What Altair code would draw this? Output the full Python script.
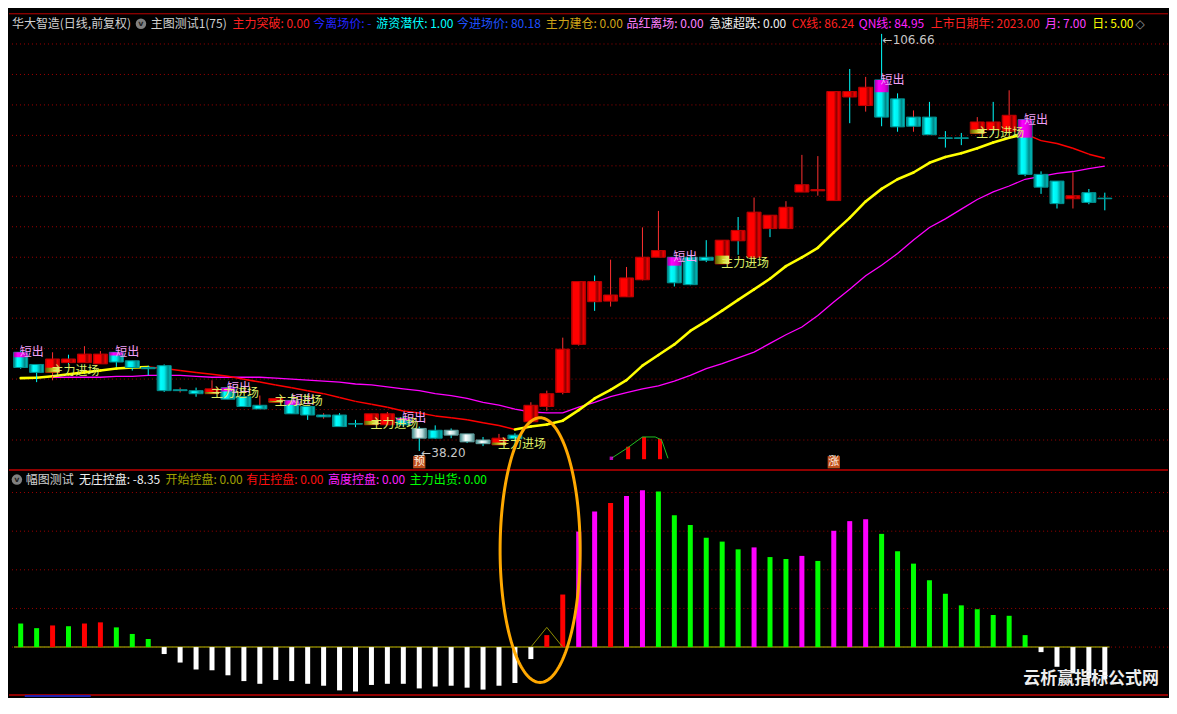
import altair as alt
import numpy as np
import pandas as pd

FONT = "Noto Sans CJK SC"
W, H_TOP, H_BOT = 1160, 463, 227
SX = W / 1177.0
SY = (H_TOP + H_BOT) / 714.0

# ------------------------------------------------------------------ data
opens = [54.4, 52.4, 51.1, 53.3, 52.7, 52.5, 54.4, 53.0, 51.9, 52.2,
         48.1, 48.1, 47.6, 48.6, 47.1, 45.1, 46.2, 46.5, 45.5, 43.8,
         44.1, 42.7, 42.5, 42.5, 43.6, 41.9, 41.6, 41.6, 41.0, 40.0,
         39.2, 40.8, 43.0, 45.5, 47.8, 55.7, 66.0, 62.8, 63.5, 66.3,
         70.0, 70.0, 70.0, 70.0, 68.9, 74.4, 70.0, 76.9, 74.7, 80.7,
         80.9, 79.3, 97.2, 94.9, 99.1, 96.0, 91.5, 93.0, 89.6, 89.6,
         90.3, 92.2, 90.7, 92.6, 83.6, 82.5, 79.6, 80.6, 79.7]
highs = [54.6, 52.4, 54.4, 54.0, 55.4, 54.6, 54.4, 53.0, 52.2, 52.4,
         48.6, 48.6, 49.8, 48.6, 47.1, 47.3, 47.0, 46.5, 45.5, 44.4,
         44.4, 43.3, 44.3, 44.6, 43.8, 42.2, 42.4, 41.9, 41.0, 40.5,
         41.0, 41.1, 46.2, 48.1, 56.8, 66.0, 67.0, 69.6, 68.4, 74.9,
         77.6, 70.0, 70.4, 72.8, 72.8, 76.6, 79.8, 76.9, 79.2, 86.8,
         86.6, 97.2, 100.9, 99.6, 106.66, 96.9, 94.1, 95.5, 90.7, 90.4,
         93.0, 95.5, 97.4, 92.6, 84.1, 82.5, 83.9, 81.2, 80.6]
lows = [51.7, 49.5, 49.8, 52.4, 52.7, 52.5, 52.0, 51.4, 50.6, 47.9,
        47.8, 47.1, 47.6, 46.7, 45.4, 45.1, 46.2, 44.3, 43.3, 43.5,
        42.2, 42.1, 42.5, 42.5, 42.2, 38.2, 40.2, 40.3, 39.5, 39.0,
        39.2, 39.8, 42.7, 44.8, 47.5, 55.5, 61.2, 61.9, 63.5, 66.2,
        70.0, 65.2, 65.4, 69.2, 68.9, 70.4, 70.0, 73.3, 74.7, 80.7,
        80.1, 79.3, 92.0, 93.9, 91.5, 90.6, 90.6, 90.1, 88.0, 88.4,
        90.3, 90.3, 90.7, 83.3, 80.4, 78.0, 78.0, 78.7, 77.7]
closes = [51.9, 51.1, 53.3, 52.7, 54.1, 54.1, 52.8, 51.9, 51.7, 48.1,
          48.25, 47.6, 48.4, 46.7, 45.5, 45.7, 46.8, 44.3, 44.1, 44.1,
          42.2, 42.6, 44.3, 44.3, 42.5, 40.3, 40.3, 40.8, 39.7, 39.4,
          40.3, 40.2, 45.7, 47.6, 54.9, 66.0, 62.7, 63.8, 66.6, 70.0,
          71.1, 65.8, 65.5, 69.5, 72.8, 72.7, 77.4, 74.7, 78.2, 81.9,
          81.1, 97.2, 96.3, 97.9, 93.0, 91.4, 93.0, 90.1, 89.5, 89.5,
          92.2, 90.9, 93.3, 83.6, 81.5, 78.8, 80.1, 79.0, 79.6]
body_codes = ("ccrrrrcccc" "ccrcccrccc" "ccrrcwcwww" "rcrrrrrrrr"
              "rcccrrrrrr" "rrrrcccccc" "rrrcccrcc")

cx_line = [50.15, 50.23, 50.46, 50.78, 51.10, 51.41, 51.73, 51.89, 51.97, 51.73,
           51.41, 51.10, 50.78, 50.46, 49.99, 49.51, 49.04, 48.56, 48.09, 47.61,
           46.98, 46.34, 45.87, 45.39, 44.76, 44.44, 43.96, 43.65, 43.33, 42.85,
           42.38, 41.74, 42.22, 42.54, 43.17, 44.91, 46.82, 48.24, 49.83, 52.21,
           53.95, 55.69, 57.91, 59.50, 61.24, 62.99, 64.73, 66.47, 68.54, 69.96,
           71.55, 74.08, 76.46, 79.16, 81.22, 82.80, 83.91, 85.50, 86.45, 87.08,
           87.88, 88.83, 89.62, 90.25, 89.14, 88.67, 87.88, 86.92, 86.24]
qn_line = [None, None, 50.30, 50.30, 50.30, 50.30, 50.46, 50.46, 50.62, 50.62,
           50.62, 50.46, 50.30, 50.30, 50.30, 50.30, 50.15, 49.99, 49.83, 49.67,
           49.51, 49.19, 49.04, 48.72, 48.40, 48.09, 47.61, 47.29, 46.82, 46.18,
           45.71, 45.07, 44.60, 44.44, 44.44, 45.39, 46.18, 47.13, 47.77, 48.40,
           48.88, 49.67, 50.62, 51.73, 52.52, 53.47, 54.43, 55.85, 57.28, 58.55,
           60.45, 62.67, 64.73, 66.95, 68.69, 70.60, 72.82, 74.88, 76.30, 77.89,
           79.47, 80.74, 81.69, 82.80, 83.28, 83.75, 84.07, 84.55, 84.95]

short_out_days = [0, 6, 13, 17, 24, 41, 54, 63]
entry_days = [2, 12, 16, 22, 30, 44, 60]
grid_prices = list(range(40, 110, 5))

mini_bar_x = [38.1, 39.1, 40.1]
mini_bar_top = [38.9, 40.5, 40.2]
mini_base = 36.85
mini_line_x = [37.05, 38.0, 39.0, 39.8, 40.2, 40.6]
mini_line_y = [37.0, 38.6, 40.5, 40.5, 40.0, 37.0]

sub_vals = [6.1, 4.9, 5.6, 5.4, 6.1, 6.4, 5.1, 3.4, 2.1,
            -1.8, -4.0, -5.8, -6.0, -7.3, -8.8, -9.5, -8.5, -8.8, -9.5, -10.0, -11.2,
            -11.5, -9.8, -9.5, -9.5, -10.7, -10.2, -10.0, -10.5, -11.0, -10.0, -9.3, -3.1,
            3.1, 13.6, 29.9, 35.1, 37.3, 39.1, 40.6, 40.3, 34.1, 31.6, 28.3, 27.3, 25.3,
            25.8, 23.3, 22.8, 23.6, 22.3, 30.1, 32.6, 33.1, 29.3, 24.8, 21.6, 17.3, 13.8,
            10.8, 9.8, 8.3, 8.1, 3.1,
            -1.3, -5.1, -6.8, -8.0, -8.35]
sub_codes = ("ggrgrrggg" + "w" * 24 + "rrmmrmm" + "gggggg" + "m" + "gg" + "m" + "g"
             + "mmm" + "g" * 10 + "w" * 5)
sub_grid = [0, 10, 20, 30, 40]
tri_x = [32, 33, 34]
tri_v = [0, 5.1, 0]

top_names = ["主力突破", "今离场价", "游资潜伏", "今进场价", "主力建仓", "品红离场",
             "急速超跌", "CX线", "QN线", "上市日期年", "月", "日"]
top_values = ["0.00", "-", "1.00", "80.18", "0.00", "0.00", "0.00", "86.24",
              "84.95", "2023.00", "7.00", "5.00"]
sub_names = ["无庄控盘", "开始控盘", "有庄控盘", "高度控盘", "主力出货"]
sub_texts = ["-8.35", "0.00", "0.00", "0.00", "0.00"]

# ------------------------------------------------------------------ styles / layout
top_colors = ["#FF2020", "#2424FF", "#00FFFF", "#1E50FF", "#D0A418", "#FF80FF",
              "#F0F0F0", "#FF2020", "#FF20FF", "#FF2020", "#FF40FF", "#FFFF00"]
top_xref = [227, 309, 373, 455, 545, 627, 711, 795, 863, 936, 1052, 1100]
sub_colors = ["#F0F0F0", "#A0A000", "#FF1010", "#FF20FF", "#00FF00"]
sub_xref = [71, 159, 241, 324, 407]
sub_palette = {"g": "#00FF00", "r": "#FF0000", "m": "#FF00FF", "w": "#FFFFFF"}

XS = alt.Scale(domain=[-0.42, 71.65], nice=False, zero=False)
YT = alt.Scale(domain=[34.93, 110.86], nice=False, zero=False)
YB = alt.Scale(domain=[-13.1, 45.6], nice=False, zero=False)


def xq(field="i"):
    return alt.X(f"{field}:Q", scale=XS, axis=None)


def yt(field):
    return alt.Y(f"{field}:Q", scale=YT, axis=None)


def yb(field):
    return alt.Y(f"{field}:Q", scale=YB, axis=None)


def grad(stops):
    return alt.LinearGradient(
        gradient="linear",
        stops=[alt.GradientStop(color=c, offset=o) for o, c in stops],
        x1=0, x2=1, y1=0, y2=0)


def text_item(txt, xpx, ypx, col, size=12, font=FONT, weight="normal"):
    return alt.Chart(pd.DataFrame({"t": [txt]})).mark_text(
        align="left", baseline="middle", font=font, fontSize=size, color=col,
        fontWeight=weight).encode(x=alt.value(xpx), y=alt.value(ypx), text="t:N")


# ------------------------------------------------------------------ frames
n = len(opens)
df = pd.DataFrame({"i": list(range(n)), "o": opens, "h": highs, "l": lows,
                   "c": closes, "body": list(body_codes)})
df["wcol"] = np.where(df["c"] >= df["o"], "#FF3030", "#00FFFF")
df["top"] = df[["o", "c"]].max(axis=1)
df["bot"] = df[["o", "c"]].min(axis=1)

short_df = df.loc[short_out_days].copy()
short_df["ov_top"] = short_df["top"]
short_df["ov_bot"] = short_df["top"] - 0.33 * (short_df["top"] - short_df["bot"])
entry_df = df.loc[entry_days].copy()
entry_df["ov_bot"] = entry_df["bot"]
entry_df["ov_top"] = entry_df["bot"] + 0.35 * (entry_df["top"] - entry_df["bot"])

seg_rows = []
for k in range(len(cx_line) - 1):
    d = "up" if cx_line[k + 1] >= cx_line[k] else "down"
    seg_rows.append({"seg": k, "i": k, "v": cx_line[k], "dir": d, "ord": 0})
    seg_rows.append({"seg": k, "i": k + 1, "v": cx_line[k + 1], "dir": d, "ord": 1})
seg = pd.DataFrame(seg_rows)

qn = pd.DataFrame({"i": list(range(n)), "v": qn_line}).dropna()

# ------------------------------------------------------------------ top panel
layers = []
layers.append(alt.Chart(pd.DataFrame({"p": grid_prices})).mark_rule(
    color="#A00000", strokeDash=[1, 3], strokeWidth=1).encode(y=yt("p")))
layers.append(alt.Chart(qn).mark_line(color="#FF00FF", strokeWidth=1.3).encode(
    x=xq(), y=yt("v")))
layers.append(alt.Chart(seg).transform_filter(alt.datum.dir == "down").mark_line(
    color="#FF0000", strokeWidth=1.5).encode(x=xq(), y=yt("v"), detail="seg:N", order="ord:Q"))
layers.append(alt.Chart(seg).transform_filter(alt.datum.dir == "up").mark_line(
    color="#FFFF00", strokeWidth=2.6, strokeCap="round").encode(
    x=xq(), y=yt("v"), detail="seg:N", order="ord:Q"))

# wicks
layers.append(alt.Chart(df).mark_rule(strokeWidth=1).encode(
    x=xq(), y=yt("l"), y2="h:Q", color=alt.Color("wcol:N", scale=None, legend=None)))

body_fill = {
    "r": grad([(0, "#B00000"), (0.12, "#FF0000"), (0.5, "#FF0000"), (0.68, "#8A0000"),
               (0.85, "#F00000"), (1, "#B00000")]),
    "c": grad([(0, "#007070"), (0.25, "#00FFFF"), (0.5, "#00F0F0"), (0.78, "#008888"),
               (1, "#00C8C8")]),
    "w": grad([(0, "#409090"), (0.4, "#FFFFFF"), (0.7, "#C0E0E0"), (1, "#408080")]),
}
body_edge = {"r": "#C00000", "c": "#009090", "w": "#60A0A0"}
for code in ["r", "c", "w"]:
    layers.append(alt.Chart(df).transform_filter(alt.datum.body == code).mark_bar(
        size=14, fill=body_fill[code], stroke=body_edge[code], strokeWidth=1).encode(
        x=xq(), y=yt("o"), y2="c:Q"))

layers.append(alt.Chart(short_df).mark_bar(
    size=14, fill=grad([(0, "#A000A0"), (0.3, "#FF00FF"), (0.7, "#E000E0"), (1, "#A000A0")])).encode(
    x=xq(), y=yt("ov_top"), y2="ov_bot:Q"))
layers.append(alt.Chart(entry_df).mark_bar(
    size=14, fill=grad([(0, "#606000"), (0.5, "#C8C820"), (1, "#F4F470")])).encode(
    x=xq(), y=yt("ov_bot"), y2="ov_top:Q"))

# mini icon
mini_bars = pd.DataFrame({"i": mini_bar_x, "t": mini_bar_top, "b": [mini_base] * 3})
layers.append(alt.Chart(mini_bars).mark_bar(size=4, color="#FF0000").encode(
    x=xq(), y=yt("t"), y2="b:Q"))
mini_line = pd.DataFrame({"i": mini_line_x, "v": mini_line_y, "k": list(range(len(mini_line_x)))})
layers.append(alt.Chart(mini_line).mark_line(color="#20C020", strokeWidth=1).encode(
    x=xq(), y=yt("v"), order="k:Q"))
layers.append(alt.Chart(mini_line.head(1)).mark_point(
    shape="square", filled=True, color="#FF00FF", size=12).encode(x=xq(), y=yt("v")))

# boxes 预 / 涨
boxes = pd.DataFrame({"i": [25, 51], "p": [36.35, 36.35], "t": ["预", "涨"]})
layers.append(alt.Chart(boxes).mark_square(size=150, color="#C0501C", opacity=1).encode(
    x=xq(), y=yt("p")))
layers.append(alt.Chart(boxes).mark_text(font=FONT, fontSize=11, color="#FFF0E0").encode(
    x=xq(), y=yt("p"), text="t:N"))

# labels
layers.append(alt.Chart(short_df).mark_text(
    align="left", baseline="middle", font=FONT, fontSize=12, color="#F0A0F8", dx=-1).encode(
    x=xq(), y=yt("top"), text=alt.value("短出")))
layers.append(alt.Chart(entry_df).mark_text(
    align="left", baseline="middle", font=FONT, fontSize=12, color="#DDEE66", dx=-1, dy=-1).encode(
    x=xq(), y=yt("bot"), text=alt.value("主力进场")))

extremes = pd.DataFrame({"i": [25, 54], "p": [38.20, 106.66], "t": ["←38.20", "←106.66"]})
layers.append(alt.Chart(extremes.head(1)).mark_text(
    align="left", baseline="middle", font="DejaVu Sans", fontSize=12, color="#C8C8C8", dx=2, dy=2).encode(
    x=xq(), y=yt("p"), text="t:N"))
layers.append(alt.Chart(extremes.tail(1)).mark_text(
    align="left", baseline="middle", font="DejaVu Sans", fontSize=12, color="#C8C8C8", dx=1, dy=6).encode(
    x=xq(), y=yt("p"), text="t:N"))

# borders
one = pd.DataFrame({"a": [0]})
layers.append(alt.Chart(one).mark_rule(color="#C00000", strokeWidth=1).encode(
    x=alt.value(0), x2=alt.value(W), y=alt.value(5.5)))
layers.append(alt.Chart(one).mark_rule(color="#C00000", strokeWidth=1.5).encode(
    x=alt.value(0), x2=alt.value(W), y=alt.value(H_TOP - 1)))

# header
hy = 16 * SY
layers.append(text_item("华大智造(日线,前复权)", 3 * SX, hy, "#D0D0D0"))
layers.append(alt.Chart(one).mark_point(shape="circle", filled=True, color="#808080", size=110,
                                        opacity=1).encode(x=alt.value(134 * SX), y=alt.value(hy)))
layers.append(alt.Chart(one).mark_text(font="DejaVu Sans", fontSize=8, fontWeight="bold",
                                       color="#202020").encode(
    x=alt.value(134 * SX), y=alt.value(hy + 0.5), text=alt.value("v")))
layers.append(text_item("主图测试1(75)", 144 * SX, hy, "#D0D0D0"))
for nm, val, col, xr in zip(top_names, top_values, top_colors, top_xref):
    layers.append(text_item(f"{nm}: {val}", xr * SX, hy, col))
layers.append(text_item("◇", 1144 * SX, hy, "#909090", font="DejaVu Sans"))

top = alt.layer(*layers).properties(width=W, height=H_TOP)

# ------------------------------------------------------------------ bottom panel
bl = []
sub = pd.DataFrame({"i": list(range(len(sub_vals))), "v": sub_vals,
                    "col": [sub_palette[c] for c in sub_codes]})
sub["z"] = 0.0
bl.append(alt.Chart(pd.DataFrame({"g": sub_grid})).mark_rule(
    color="#A00000", strokeDash=[1, 3], strokeWidth=1).encode(y=yb("g")))
bl.append(alt.Chart(pd.DataFrame({"x0": [-0.42], "x1": [68.3], "y": [0.0]})).mark_rule(
    color="#808000", strokeWidth=1.5).encode(x=xq("x0"), x2="x1:Q", y=yb("y")))
bl.append(alt.Chart(sub).mark_bar(size=5).encode(
    x=xq(), y=yb("v"), y2="z:Q", color=alt.Color("col:N", scale=None, legend=None)))
tri = pd.DataFrame({"i": tri_x, "v": tri_v, "k": [0, 1, 2]})
bl.append(alt.Chart(tri).mark_line(color="#909000", strokeWidth=1).encode(
    x=xq(), y=yb("v"), order="k:Q"))
bl.append(alt.Chart(one).mark_rule(color="#C00000", strokeWidth=1.5).encode(
    x=alt.value(0), x2=alt.value(W), y=alt.value((711 - 479) * SY)))
bl.append(alt.Chart(one).mark_rule(color="#2020B0", strokeWidth=2).encode(
    x=alt.value(16 * SX), x2=alt.value(83 * SX), y=alt.value((711 - 479) * SY + 1)))

# ellipse annotation
t = np.linspace(0, 2 * np.pi, 181)
ell = pd.DataFrame({"i": 32.58 + 2.51 * np.cos(t), "v": 25.1 + 34.25 * np.sin(t),
                    "k": np.arange(len(t))})
bl.append(alt.Chart(ell).mark_line(color="#FFA800", strokeWidth=3).encode(
    x=xq(), y=yb("v"), order="k:Q"))

sy = (488 - 479) * SY
bl.append(alt.Chart(one).mark_point(shape="circle", filled=True, color="#808080", size=110,
                                    opacity=1).encode(x=alt.value(8 * SX), y=alt.value(sy)))
bl.append(alt.Chart(one).mark_text(font="DejaVu Sans", fontSize=8, fontWeight="bold",
                                   color="#202020").encode(
    x=alt.value(8 * SX), y=alt.value(sy + 0.5), text=alt.value("v")))
bl.append(text_item("幅图测试", 17 * SX, sy, "#D0D0D0"))
for nm, val, col, xr in zip(sub_names, sub_texts, sub_colors, sub_xref):
    bl.append(text_item(f"{nm}: {val}", xr * SX, sy, col))
bl.append(text_item("云析赢指标公式网", 1030 * SX, (695 - 479) * SY, "#EDEDED", size=17,
                    weight="bold"))

bottom = alt.layer(*bl).properties(width=W, height=H_BOT)

chart = alt.vconcat(top, bottom, spacing=0, bounds="flush").properties(
    background="#000000", padding=0).configure_view(strokeWidth=0)

chart.save("out.html", embed_options={"renderer": "svg", "actions": False})
